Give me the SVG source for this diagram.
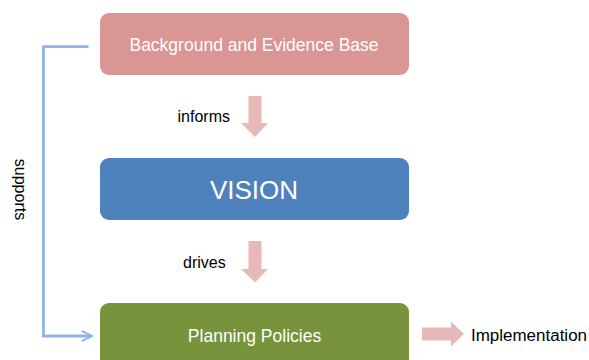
<svg xmlns="http://www.w3.org/2000/svg" width="589" height="360" viewBox="0 0 589 360">
  <style>
    .box-text { font-family: "Liberation Sans", Arial, sans-serif; fill: #ffffff; text-anchor: middle; }
    .label { font-family: "Liberation Sans", Arial, sans-serif; fill: #000000; font-size: 16px; }
    .flow { fill: #E6B9B8; }
    .link { fill: none; stroke: #8EB4E3; stroke-width: 2.8; }
  </style>
  <defs>
    <marker id="open-arrow" viewBox="0 0 10 10" refX="9" refY="5" markerWidth="4.6" markerHeight="4.6" orient="auto" markerUnits="strokeWidth">
      <path d="M1,1 L9,5 L1,9" fill="none" stroke="#8EB4E3" stroke-width="1.5"/>
    </marker>
  </defs>
  <rect width="589" height="360" fill="#ffffff"/>

  <g id="background">
    <rect x="100" y="13" width="309" height="62" rx="9" fill="#D99694"/>
    <text class="box-text" x="254" y="51" font-size="17.5">Background and Evidence Base</text>
  </g>

  <g id="vision">
    <rect x="100" y="158" width="309" height="62" rx="9" fill="#4F81BD"/>
    <text class="box-text" x="254" y="199" font-size="26">VISION</text>
  </g>

  <g id="planning">
    <rect x="100" y="303" width="309" height="70" rx="9" fill="#77933C"/>
    <text class="box-text" x="254.5" y="341.5" font-size="17.5">Planning Policies</text>
  </g>

  <g id="implementation">
    <text class="label" x="471" y="341" textLength="116" lengthAdjust="spacingAndGlyphs">Implementation</text>
  </g>

  <g id="connectors">
    <!-- informs -->
    <path class="flow" d="M248.5,96 H261.5 V123 H268 L255,137 L241,123 H248.5 Z"/>
    <text class="label" x="177.5" y="121.5">informs</text>
    <!-- drives -->
    <path class="flow" d="M248.5,241 H261.5 V269 H268 L255,282.5 L241,269 H248.5 Z"/>
    <text class="label" x="183" y="267.5">drives</text>
    <!-- to implementation -->
    <path class="flow" d="M422,327.5 H451 V321.5 L464,334 L451,346.5 V340.5 H422 Z"/>
    <!-- supports -->
    <path class="link" d="M88.5,46.7 H43.5 V336 H92" marker-end="url(#open-arrow)"/>
    <text class="label" transform="translate(15,189.5) rotate(90)" text-anchor="middle">supports</text>
  </g>
</svg>
